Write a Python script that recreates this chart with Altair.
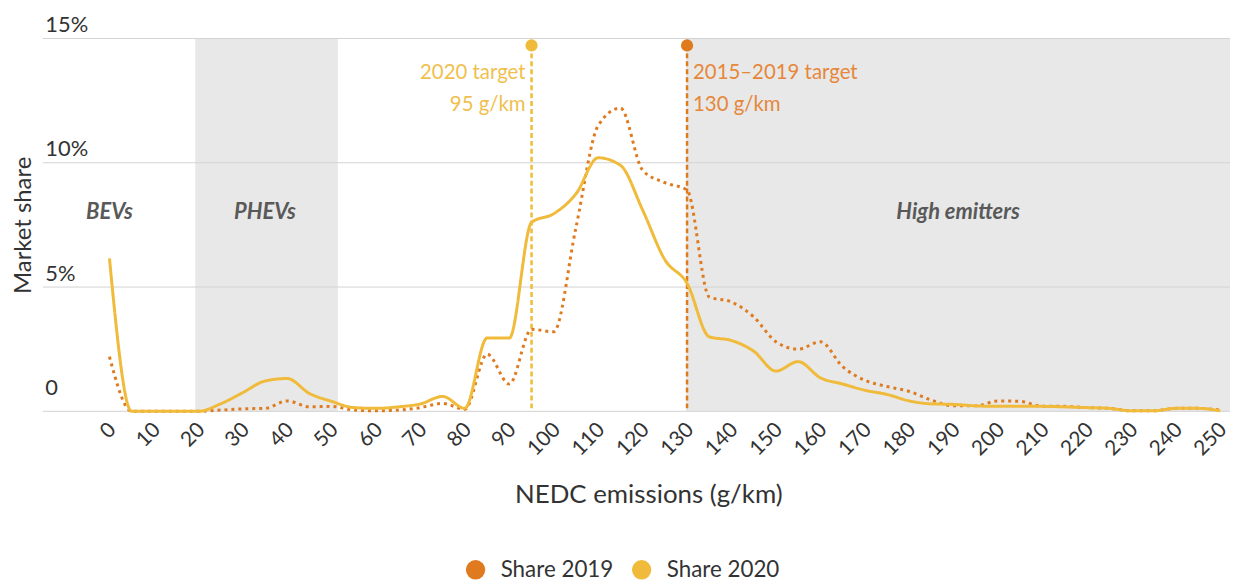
import altair as alt
import pandas as pd

# ---------------- data ----------------
emissions = list(range(0, 255, 5))
share_2019 = [2.2, 0.0, 0.0, 0.0, 0.0, 0.05, 0.1, 0.12, 0.42, 0.18,
              0.2, 0.05, 0.02, 0.05, 0.15, 0.32, 0.08, 2.3, 1.1, 3.3,
              3.2, 7.4, 11.5, 12.2, 9.7, 9.2, 8.9, 4.6, 4.4, 3.8,
              2.8, 2.5, 2.8, 1.8, 1.25, 1.0, 0.8, 0.45, 0.22, 0.22,
              0.42, 0.4, 0.2, 0.2, 0.15, 0.12, 0.02, 0.02, 0.12, 0.12, 0.05]
share_2020 = [6.15, 0.0, 0.0, 0.0, 0.0, 0.3, 0.75, 1.22, 1.32, 0.72,
              0.4, 0.15, 0.12, 0.18, 0.3, 0.6, 0.12, 2.95, 2.95, 7.6,
              7.95, 8.75, 10.2, 9.9, 8.1, 6.1, 5.15, 3.0, 2.85, 2.42,
              1.62, 2.0, 1.35, 1.1, 0.85, 0.68, 0.42, 0.3, 0.28, 0.22,
              0.2, 0.2, 0.2, 0.18, 0.15, 0.12, 0.02, 0.02, 0.12, 0.12, 0.02]
series_names = ["Share 2019", "Share 2020"]

x_ticks = list(range(0, 260, 10))
y_ticks = [0, 5, 10, 15]

band_start = [19.3, 129.8]
band_end = [51.4, 252.2]

region_labels = ["BEVs", "PHEVs", "High emitters"]
region_x = [0, 35, 191]
region_y = 8.0

target_values = [95, 130]
target_top = 14.72
target_line1 = ["2020 target", "2015\u20132019 target"]
target_line2 = ["95 g/km", "130 g/km"]
line1_y = 13.36
line2_y = 12.08

# ---------------- styles ----------------
FONT = "Lato"
ORANGE = "#E07A1F"
YELLOW = "#F0BA3A"
ORANGE_TXT = "#E6873A"
YELLOW_TXT = "#F0BF4E"
TEXT = "#333333"

xscale = alt.Scale(domain=[-15, 252.2], nice=False, zero=False)
yscale = alt.Scale(domain=[0, 15], nice=False)

xaxis = alt.Axis(values=x_ticks, labelAngle=-45, labelAlign="right", labelBaseline="middle",
                 labelFontSize=21, labelColor=TEXT, labelPadding=15, labelOffset=3,
                 labelFlush=False, labelOverlap=False, labelBound=False,
                 ticks=False, domain=False, grid=False,
                 title="NEDC emissions (g/km)", titleFontSize=26, titleFontWeight="normal",
                 titleColor=TEXT, titleX=609, titleY=84, titleBaseline="middle",
                 titleAlign="center")
yaxis = alt.Axis(values=y_ticks, labelExpr="datum.value == 0 ? '0' : datum.value + '%'",
                 labelAlign="left", labelBaseline="alphabetic", labelPadding=-2,
                 labelOffset={"condition": {"test": "datum.value == 0", "value": -17}, "value": -7},
                 labelFontSize=22, labelColor=TEXT, ticks=False, domain=False, grid=False,
                 labelFlush=False, labelOverlap=False,
                 title="Market share", titleFontSize=24, titleFontWeight="normal",
                 titleColor=TEXT, titleX=-19, titleY=187.5, titleAngle=-90,
                 titleBaseline="middle", titleAlign="center")

df = pd.DataFrame({
    "emissions": emissions * 2,
    "share": share_2019 + share_2020,
    "series": [series_names[0]] * len(emissions) + [series_names[1]] * len(emissions),
})
df["key"] = df["series"]
bands = pd.DataFrame({"start": band_start, "end": band_end})
grid = pd.DataFrame({"tick": y_ticks})
regions = pd.DataFrame({"label": region_labels, "x": region_x, "y": [region_y] * 3})

X = lambda f: alt.X(f, type="quantitative", scale=xscale, axis=xaxis)
Y = lambda f: alt.Y(f, type="quantitative", scale=yscale, axis=yaxis)

band_layer = alt.Chart(bands).mark_rect(color="#E8E8E8").encode(
    x=X("start"), x2="end",
    y=alt.Y(datum=15, type="quantitative", scale=yscale, axis=yaxis), y2=alt.Y2(datum=0))

grid_layer = alt.Chart(grid).mark_rule(color="#D3D3D3", strokeWidth=1).encode(y=Y("tick"))

line_layer = alt.Chart(df).mark_line(strokeWidth=3, interpolate="monotone").encode(
    x=X("emissions"), y=Y("share"),
    stroke=alt.Stroke("series:N", scale=alt.Scale(domain=series_names, range=[ORANGE, YELLOW]),
                      legend=None),
    strokeDash=alt.StrokeDash("series:N",
                              scale=alt.Scale(domain=series_names, range=[[3, 4], [1, 0]]),
                              legend=None),
    order=alt.Order("series:N"))

# legend-only layer (invisible points); its colour scale takes its domain from the data
legend_layer = alt.Chart(df).mark_circle(opacity=0).encode(
    x=X("emissions"), y=Y("share"),
    color=alt.Color("key:N", sort="ascending", scale=alt.Scale(range=[ORANGE, YELLOW]),
                    legend=alt.Legend(orient="none", legendX=424, legendY=523,
                                      direction="horizontal", title=None, symbolType="circle",
                                      symbolSize=380, symbolOpacity=1, symbolStrokeWidth=0,
                                      labelFontSize=22.5, labelFont=FONT, labelColor=TEXT,
                                      columnPadding=17, labelOffset=14)))

layers = [band_layer, grid_layer]

target_cols = [YELLOW, ORANGE]
text_cols = [YELLOW_TXT, ORANGE_TXT]
for i, tv in enumerate(target_values):
    tdf = pd.DataFrame({"x": [tv]})
    rule = alt.Chart(tdf).mark_rule(color=target_cols[i], strokeWidth=2.5,
                                    strokeDash=[5, 3]).encode(
        x=X("x"), y=alt.Y(datum=target_top, type="quantitative", scale=yscale, axis=yaxis),
        y2=alt.Y2(datum=0))
    dot = alt.Chart(tdf).mark_circle(color=target_cols[i], size=150, opacity=1).encode(
        x=X("x"), y=alt.Y(datum=target_top, type="quantitative", scale=yscale, axis=yaxis))
    txt = pd.DataFrame({"x": [tv, tv], "y": [line1_y, line2_y],
                        "text": [target_line1[i], target_line2[i]]})
    t = alt.Chart(txt).mark_text(color=text_cols[i], fontSize=20.5,
                                 align="right" if i == 0 else "left",
                                 dx=-6 if i == 0 else 6, baseline="alphabetic").encode(
        x=X("x"), y=Y("y"), text="text:N")
    layers += [rule, dot, t]

region_layer = alt.Chart(regions).mark_text(fontSize=22, fontWeight="bold", fontStyle="italic",
                                            color="#595959", baseline="middle").encode(
    x=X("x"), y=Y("y"), text="label:N")

layers += [region_layer, line_layer, legend_layer]

chart = alt.layer(*layers).properties(
    width=1194, height=375,
    autosize=alt.AutoSizeParams(type="none"),
    padding={"left": 35, "top": 29, "right": 0, "bottom": 171},
).configure(font=FONT).configure_view(stroke=None)

chart.save("out.html", embed_options={"renderer": "svg", "actions": False})
